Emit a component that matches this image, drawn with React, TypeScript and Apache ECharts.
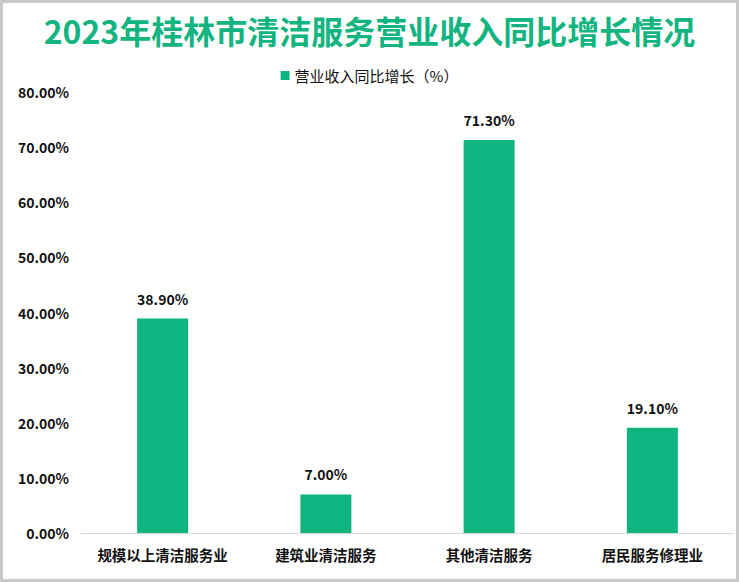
import React, { useEffect, useRef } from "react";
import * as echarts from "echarts";

const categories = ["规模以上清洁服务业", "建筑业清洁服务", "其他清洁服务", "居民服务修理业"];
const growthValues = [38.9, 7.0, 71.3, 19.1];
const seriesName = "营业收入同比增长（%）";
const titleText = "2023年桂林市清洁服务营业收入同比增长情况";

export default function App() {
  const ref = useRef<HTMLDivElement>(null);
  useEffect(() => {
    if (!ref.current) return;
    const chart = echarts.init(ref.current, null, { renderer: "svg" });
    const font = "'Noto Sans CJK SC', 'Microsoft YaHei', sans-serif";
    chart.setOption({
      animation: false,
      backgroundColor: "#ffffff",
      textStyle: { fontFamily: font },
      title: {
        text: titleText,
        left: "center",
        top: 6,
        textStyle: { color: "#12b47f", fontSize: 32, fontWeight: "bold", fontFamily: font },
      },
      legend: {
        top: 60,
        left: "center",
        itemWidth: 9,
        itemHeight: 9,
        icon: "rect",
        textStyle: { fontSize: 15, color: "#111", fontFamily: font },
        data: [seriesName],
      },
      grid: { left: 78, right: 2, top: 89, bottom: 46 },
      xAxis: {
        type: "category",
        data: categories,
        axisLine: { lineStyle: { color: "#d9d9d9" } },
        axisTick: { show: false },
        axisLabel: { color: "#111", fontSize: 14.5, fontWeight: "bold", margin: 14, interval: 0, fontFamily: font },
      },
      yAxis: {
        type: "value",
        min: 0,
        max: 80,
        interval: 10,
        splitLine: { show: false },
        axisLine: { show: false },
        axisTick: { show: false },
        axisLabel: {
          color: "#111",
          fontSize: 14,
          fontWeight: "bold",
          margin: 12,
          fontFamily: font,
          formatter: (v: number) => v.toFixed(2) + "%",
        },
      },
      series: [
        {
          name: seriesName,
          type: "bar",
          data: growthValues,
          barWidth: 51,
          itemStyle: { color: "#10b481" },
          label: {
            show: true,
            position: "top",
            distance: 13,
            color: "#111",
            fontSize: 14,
            fontWeight: "bold",
            fontFamily: font,
            formatter: (p: any) => Number(p.value).toFixed(2) + "%",
          },
        },
      ],
    });
    return () => chart.dispose();
  }, []);
  return (
    <div
      style={{
        position: "absolute",
        left: 0,
        top: 0,
        width: 739,
        height: 582,
        boxSizing: "border-box",
        border: "3px solid #c8c8c8",
        background: "#fff",
      }}
    >
      <div ref={ref} style={{ width: 733, height: 576 }} />
    </div>
  );
}
